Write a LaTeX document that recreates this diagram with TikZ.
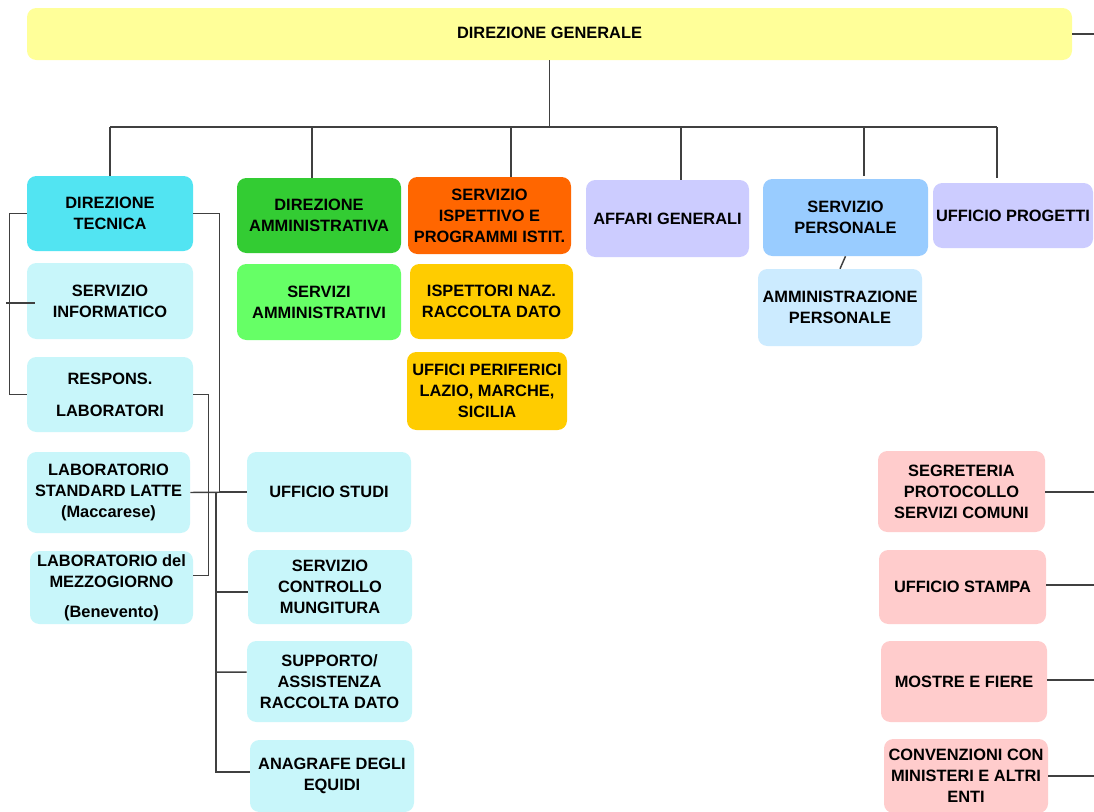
\documentclass[tikz,border=0pt]{standalone}
\usepackage{fontspec}
\setmainfont{Liberation Sans}
\usetikzlibrary{calc}
\definecolor{cYel}{HTML}{FFFF99}
\definecolor{cCyan}{HTML}{52E4F2}
\definecolor{cLCyan}{HTML}{C8F6FA}
\definecolor{cGreen}{HTML}{33CC33}
\definecolor{cLGreen}{HTML}{66FF66}
\definecolor{cOrange}{HTML}{FF6600}
\definecolor{cGold}{HTML}{FFCC00}
\definecolor{cLav}{HTML}{CCCCFF}
\definecolor{cBlue}{HTML}{99CCFF}
\definecolor{cLBlue}{HTML}{CCEBFF}
\definecolor{cPink}{HTML}{FFCCCC}
\definecolor{cLine}{HTML}{404040}
\tikzset{
  box/.style n args={2}{rounded corners=7pt, draw=none, align=center,
    inner sep=0pt, minimum width=#1*0.75pt, minimum height=#2*0.75pt,
    font=\bfseries\fontsize{12.3}{15.8}\selectfont},
  conn/.style={draw=cLine, line width=1.1pt}
}
\begin{document}
\begin{tikzpicture}[x=0.75pt, y=-0.75pt]
\useasboundingbox (0,0) rectangle (1094,811);
\clip (0,0) rectangle (1094,811);
\fill[white] (0,0) rectangle (1094,811);
\coordinate (rb) at (1094,0);
\coordinate (busL) at (110,127);
\coordinate (busR) at (997,127);

% top
\node[box={1045}{52}, fill=cYel] (DG) at (549.5,34) {\raisebox{2pt}{DIREZIONE GENERALE}};

% second row
\node[box={166}{75}, fill=cCyan] (DT) at (110,213.5) {DIREZIONE\\TECNICA};
\node[box={164}{75}, fill=cGreen] (DA) at (319,215.5) {DIREZIONE\\AMMINISTRATIVA};
\node[box={163}{77}, fill=cOrange] (SIP) at (489.5,215.5) {SERVIZIO\\ISPETTIVO E\\PROGRAMMI ISTIT.};
\node[box={163}{77}, fill=cLav] (AG) at (667.5,218.5) {AFFARI GENERALI};
\node[box={165}{77}, fill=cBlue] (SP) at (845.5,217.5) {SERVIZIO\\PERSONALE};
\node[box={160}{65}, fill=cLav] (UPG) at (1013,215.5) {UFFICIO PROGETTI};

% left column
\node[box={166}{76}, fill=cLCyan] (SI) at (110,301) {SERVIZIO\\INFORMATICO};
\node[box={166}{75}, fill=cLCyan] (RL) at (110,394.5) {RESPONS.\\[8pt]LABORATORI};
\node[box={163}{81}, fill=cLCyan] (LSL) at (108.5,492.5) {LABORATORIO\\STANDARD LATTE\\(Maccarese)};
\node[box={163}{73}, fill=cLCyan] (LM) at (111.5,587.5) {LABORATORIO del\\MEZZOGIORNO\\[7pt](Benevento)};

% green / orange columns
\node[box={164}{76}, fill=cLGreen] (SA) at (319,302) {SERVIZI\\AMMINISTRATIVI};
\node[box={163}{75}, fill=cGold] (INRD) at (491.5,301.5) {ISPETTORI NAZ.\\RACCOLTA DATO};
\node[box={160}{78}, fill=cGold] (UPF) at (487,391) {UFFICI PERIFERICI\\LAZIO, MARCHE,\\SICILIA};

% personale
\node[box={164}{77}, fill=cLBlue] (AP) at (840,307.5) {AMMINISTRAZIONE\\PERSONALE};

% middle lower column
\node[box={164}{80}, fill=cLCyan] (US) at (329,492) {UFFICIO STUDI};
\node[box={164}{74}, fill=cLCyan] (SCM) at (330,587) {SERVIZIO\\CONTROLLO\\MUNGITURA};
\node[box={165}{81}, fill=cLCyan] (SARD) at (329.5,681.5) {SUPPORTO/\\ASSISTENZA\\RACCOLTA DATO};
\node[box={164}{72}, fill=cLCyan] (AE) at (332,776) {ANAGRAFE DEGLI\\EQUIDI};

% right column
\node[box={167}{81}, fill=cPink] (SPSC) at (961.5,491.5) {SEGRETERIA\\PROTOCOLLO\\SERVIZI COMUNI};
\node[box={167}{74}, fill=cPink] (UST) at (962.5,587) {UFFICIO STAMPA};
\node[box={166}{81}, fill=cPink] (MF) at (964,681.5) {MOSTRE E FIERE};
\node[box={164}{74}, fill=cPink] (CONV) at (966,776) {CONVENZIONI CON\\MINISTERI E ALTRI\\ENTI};

% connectors: top tree
\draw[conn] (DG.south) -- (DG.south |- busL);
\draw[conn] (busL) -- (busR);
\draw[conn] (busL) -- (DT.north);
\draw[conn] ([xshift=-5.25pt]DA.north) -- ([xshift=-5.25pt]DA.north |- busL);
\draw[conn] ([xshift=16.1pt]SIP.north) -- ([xshift=16.1pt]SIP.north |- busL);
\draw[conn] ([xshift=10.1pt]AG.north) -- ([xshift=10.1pt]AG.north |- busL);
\draw[conn] ([xshift=13.9pt,yshift=2pt]SP.north) -- ([xshift=13.9pt]SP.north |- busL);
\draw[conn] (busR) -- ([yshift=3.75pt]busR |- UPG.north);
\draw[conn] (DG.east) -- (DG.east -| rb);

% personale
\draw[conn] (SP.south) -- (AP.north);

% left side
\draw[conn] (DT.west) -- ++(-17,0) |- (RL.west);
\draw[conn] ([xshift=6pt,yshift=-1.5pt]SI.west) -- ++(-29,0);
\draw[conn] (RL.east) -| ([xshift=11.25pt,yshift=9pt]LM.east) -- ([yshift=9pt]LM.east);
\draw[conn] (DT.east) -| ([xshift=-20.25pt]US.west) -- (US.west);
\draw[conn] (LSL.east) -- (US.west);
\coordinate (vb) at (216,492);
\draw[conn] (vb) |- ([yshift=3pt]AE.west);
\draw[conn] (vb |- SCM.west) ++(0,5) -- ([yshift=-3.75pt]SCM.west);
\draw[conn] (vb |- SARD.west) ++(0,-9.5) -- ([yshift=7pt]SARD.west);

% right side
\draw[conn] ([yshift=-0.5pt]SPSC.east) -- ([yshift=-0.5pt]SPSC.east -| rb);
\draw[conn] ([yshift=1.5pt]UST.east) -- ([yshift=1.5pt]UST.east -| rb);
\draw[conn] ([yshift=1pt]MF.east) -- ([yshift=1pt]MF.east -| rb);
\draw[conn] (CONV.east) -- (CONV.east -| rb);
\end{tikzpicture}
\end{document}
